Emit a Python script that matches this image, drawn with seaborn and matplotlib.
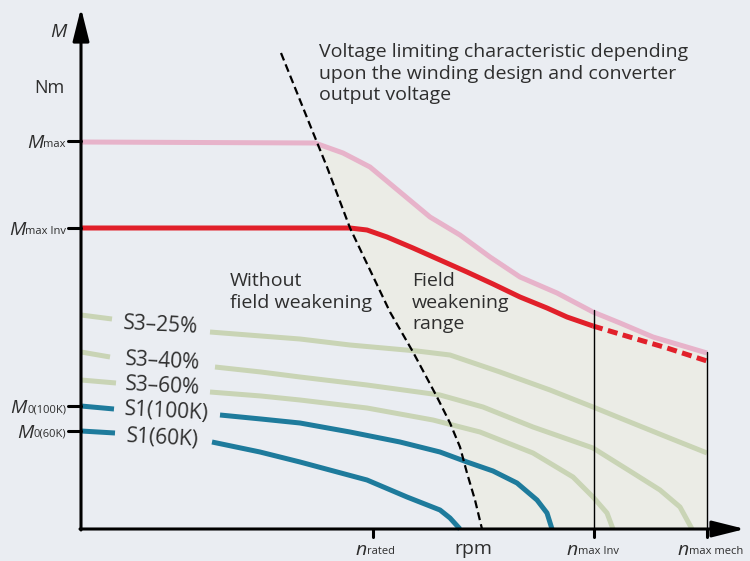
import matplotlib
matplotlib.use("Agg")
import matplotlib.pyplot as plt
import seaborn as sns

# speed (x) and torque (y) in drawing units
mmax_x = [0, 234, 262, 289, 319, 349, 379, 409, 439, 476, 512, 539, 572, 626]
mmax_y = [387, 386, 376, 362, 337, 312, 294, 272, 252, 236, 217, 206, 192, 176]

minv_x = [0, 269, 286, 306, 332, 359, 386, 412, 439, 466, 486, 512]
minv_y = [301, 301, 299, 292, 281, 269, 257, 245, 232, 221, 212, 203]
minv_ext_x = [512, 552, 586, 626]
minv_ext_y = [203, 191, 181, 168]

volt_x = [200, 231, 246, 269, 289, 309, 332, 356, 369, 379, 386, 394, 401]
volt_y = [476, 399, 362, 301, 259, 217, 177, 132, 106, 82, 56, 29, 0]

s3_25_x = [129, 180, 219, 269, 336, 369, 419, 469, 512, 539, 586, 626]
s3_25_y = [197, 193, 190, 184, 178, 174, 157, 139, 122, 111, 92, 76]
s3_40_x = [134, 180, 219, 286, 359, 402, 452, 512, 552, 579, 599, 611]
s3_40_y = [162, 157, 152, 144, 134, 122, 102, 81, 56, 39, 22, 0]
s3_60_x = [129, 180, 219, 286, 352, 399, 452, 492, 512, 526, 532]
s3_60_y = [137, 133, 129, 121, 109, 97, 76, 52, 32, 16, 0]
s1_100_x = [139, 180, 219, 269, 319, 359, 386, 412, 436, 456, 466, 471]
s1_100_y = [114, 110, 106, 97, 87, 77, 67, 58, 46, 29, 16, 0]
s1_60_x = [131, 179, 219, 286, 326, 359, 369, 379]
s1_60_y = [87, 77, 67, 49, 32, 19, 11, 0]

# short stubs left of the curve labels
stub_x = {"S3–25%": [0, 31], "S3–40%": [0, 29], "S3–60%": [0, 35],
          "S1(100K)": [0, 33], "S1(60K)": [0, 34]}
stub_y = {"S3–25%": [214, 210], "S3–40%": [177, 172], "S3–60%": [149, 146],
          "S1(100K)": [123, 120], "S1(60K)": [98, 96]}
label_pos = {"S3–25%": (80, 204), "S3–40%": (82, 168), "S3–60%": (82, 143),
             "S1(100K)": (86, 117), "S1(60K)": (82, 91)}

ytick_vals = [388, 301, 123, 98]
ytick_subs = ["max", "max Inv", "0(100K)", "0(60K)"]
xtick_vals = [292, 513, 626]
xtick_subs = ["rated", "max Inv", "max mech"]
xtick_sub_left = [286, 497, 608]
n_maxinv_top = 219
n_maxmech_top = 177

BG = "#EAEDF2"
FILL = "#EBECE6"
PINK = "#E7B3CA"
RED = "#E1202A"
GREEN = "#C9D4B5"
BLUE = "#1E7B9C"
TXT = "#2E2E2E"

sns.set_style("white")
plt.rcParams["font.family"] = ["Open Sans", "DejaVu Sans"]

fig = plt.figure(figsize=(7.5, 5.61), dpi=100, facecolor=BG)
ax = fig.add_axes([0, 0, 1, 1])
ax.set_xlim(-81, 669)
ax.set_ylim(-32, 529)
ax.axis("off")

# field weakening area: under Mmax, right of the voltage limit
fx = mmax_x[1:] + [626] + volt_x[::-1][:11]
fy = mmax_y[1:] + [0] + volt_y[::-1][:11]
ax.fill(fx, fy, color=FILL, lw=0, zorder=1)

lw = 3.6
kw = dict(sort=False, estimator=None, ax=ax, legend=False,
          solid_capstyle="butt", solid_joinstyle="round")
green_curves = {"S3–25%": (s3_25_x, s3_25_y), "S3–40%": (s3_40_x, s3_40_y),
                "S3–60%": (s3_60_x, s3_60_y)}
blue_curves = {"S1(100K)": (s1_100_x, s1_100_y), "S1(60K)": (s1_60_x, s1_60_y)}
for name, (xs, ys) in green_curves.items():
    sns.lineplot(x=xs, y=ys, color=GREEN, lw=lw, zorder=2, **kw)
    sns.lineplot(x=stub_x[name], y=stub_y[name], color=GREEN, lw=lw, zorder=2, **kw)
for name, (xs, ys) in blue_curves.items():
    sns.lineplot(x=xs, y=ys, color=BLUE, lw=lw, zorder=3, **kw)
    sns.lineplot(x=stub_x[name], y=stub_y[name], color=BLUE, lw=lw, zorder=3, **kw)
for name, (lx, ly) in label_pos.items():
    ax.text(lx, ly, name, ha="center", va="center", fontsize=15, color=TXT,
            rotation=-3, rotation_mode="anchor")

sns.lineplot(x=mmax_x, y=mmax_y, color=PINK, lw=lw, zorder=4, **kw)
sns.lineplot(x=minv_x, y=minv_y, color=RED, lw=lw, zorder=5, **kw)
ax.plot(minv_ext_x, minv_ext_y, color=RED, lw=lw, zorder=5,
        linestyle=(0, (2.0, 1.1)), dash_capstyle="butt")
ax.plot(volt_x, volt_y, color="black", lw=1.6, zorder=6,
        linestyle=(0, (3.6, 1.9)), dash_capstyle="butt")

# limits n_max Inv and n_max mech
ax.plot([xtick_vals[1], xtick_vals[1]], [0, n_maxinv_top], color="black", lw=1.0, zorder=6)
ax.plot([xtick_vals[2], xtick_vals[2]], [0, n_maxmech_top], color="black", lw=1.0, zorder=6)

# axes with arrow heads
arrow = dict(arrowstyle="-|>,head_length=2.0,head_width=0.5", color="black",
             lw=2.2, mutation_scale=10, shrinkA=0, shrinkB=0)
ax.annotate("", xy=(0, 521), xytext=(0, -1), arrowprops=arrow, zorder=7)
ax.annotate("", xy=(664, 0), xytext=(-1, 0), arrowprops=arrow, zorder=7)

for yv, sub in zip(ytick_vals, ytick_subs):
    ax.plot([-13, 0], [yv, yv], color="black", lw=2.2, zorder=7)
    t = ax.text(-15, yv - 6, sub, ha="right", va="baseline", fontsize=8, color=TXT)
    ax.annotate("M", xy=(0, 0.2), xycoords=t, ha="right", va="baseline",
                fontsize=14, style="italic", color=TXT)

for xv, sub, left in zip(xtick_vals, xtick_subs, xtick_sub_left):
    ax.plot([xv, xv], [0, -8], color="black", lw=2.2, zorder=7)
    t = ax.text(left, -25, sub, ha="left", va="baseline", fontsize=8, color=TXT)
    ax.annotate("n", xy=(0, 0.2), xycoords=t, ha="right", va="baseline",
                fontsize=14, style="italic", color=TXT)

ax.text(392, -25, "rpm", ha="center", va="baseline", fontsize=14, color=TXT)
ax.text(-23, 492, "M", ha="center", va="baseline", fontsize=14, style="italic", color=TXT)
ax.text(-16, 436, "Nm", ha="right", va="baseline", fontsize=13, color=TXT)

ax.text(238, 486, "Voltage limiting characteristic depending\nupon the winding design and converter\noutput voltage",
        ha="left", va="top", fontsize=14, color=TXT, linespacing=1.25)
ax.text(149, 257, "Without\nfield weakening", ha="left", va="top",
        fontsize=14, color=TXT, linespacing=1.25)
ax.text(331, 257, "Field\nweakening\nrange", ha="left", va="top",
        fontsize=14, color=TXT, linespacing=1.25)

fig.savefig("out.png", dpi=100, facecolor=BG)
